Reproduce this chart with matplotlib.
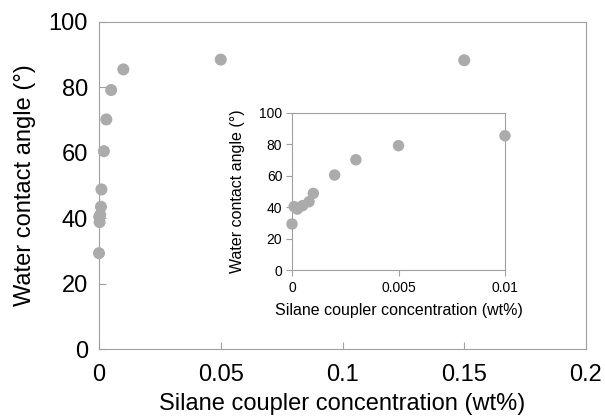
import matplotlib
matplotlib.use("Agg")
import matplotlib.pyplot as plt

plt.rcParams['font.family'] = ['Liberation Sans', 'DejaVu Sans']

conc = [0, 0.0001, 0.00025, 0.0005, 0.0008, 0.001, 0.002, 0.003, 0.005, 0.01, 0.05, 0.15]
angle = [29.3, 40.4, 38.8, 41.0, 43.5, 48.8, 60.5, 70.2, 79.2, 85.5, 88.5, 88.3]

main_xticks = [0, 0.05, 0.1, 0.15, 0.2]
main_xlabels = ['0', '0.05', '0.1', '0.15', '0.2']
main_yticks = [0, 20, 40, 60, 80, 100]
inset_xticks = [0, 0.005, 0.01]
inset_xlabels = ['0', '0.005', '0.01']
inset_yticks = [0, 20, 40, 60, 80, 100]

W, H = 605, 419
fig = plt.figure(figsize=(W/100, H/100), dpi=100)
gray = '#a0a0a0'
mcol = '#ababab'

ax = fig.add_axes([99/W, 1-349/H, (586-99)/W, (349-22)/H])
ax.scatter(conc, angle, s=75, color=mcol, edgecolors='none', zorder=3, clip_on=False)
ax.set_xlim(0, 0.2)
ax.set_ylim(0, 100)
ax.set_xticks(main_xticks)
ax.set_xticklabels(main_xlabels)
ax.set_yticks(main_yticks)
ax.tick_params(direction='in', length=5, color=gray, labelsize=17)
ax.tick_params(axis='x', pad=11)
ax.tick_params(axis='y', pad=8)
for s in ax.spines.values():
    s.set_color(gray)
ax.set_xlabel('Silane coupler concentration (wt%)', fontsize=17, labelpad=5)
ax.set_ylabel('Water contact angle (°)', fontsize=17, labelpad=9)

ins = fig.add_axes([292/W, 1-270/H, (505-292)/W, (270-113)/H])
ins.scatter(conc, angle, s=68, color=mcol, edgecolors='none', zorder=3, clip_on=False)
ins.set_xlim(0, 0.01)
ins.set_ylim(0, 100)
ins.set_xticks(inset_xticks)
ins.set_xticklabels(inset_xlabels)
ins.set_yticks(inset_yticks)
ins.tick_params(direction='out', length=4, color=gray, labelsize=10, pad=3)
ins.tick_params(axis='x', pad=4)
for s in ins.spines.values():
    s.set_color(gray)
ins.set_xlabel('Silane coupler concentration (wt%)', fontsize=11.5, labelpad=6)
ins.set_ylabel('Water contact angle (°)', fontsize=11.5, labelpad=10)

fig.savefig('out.png', dpi=100)
